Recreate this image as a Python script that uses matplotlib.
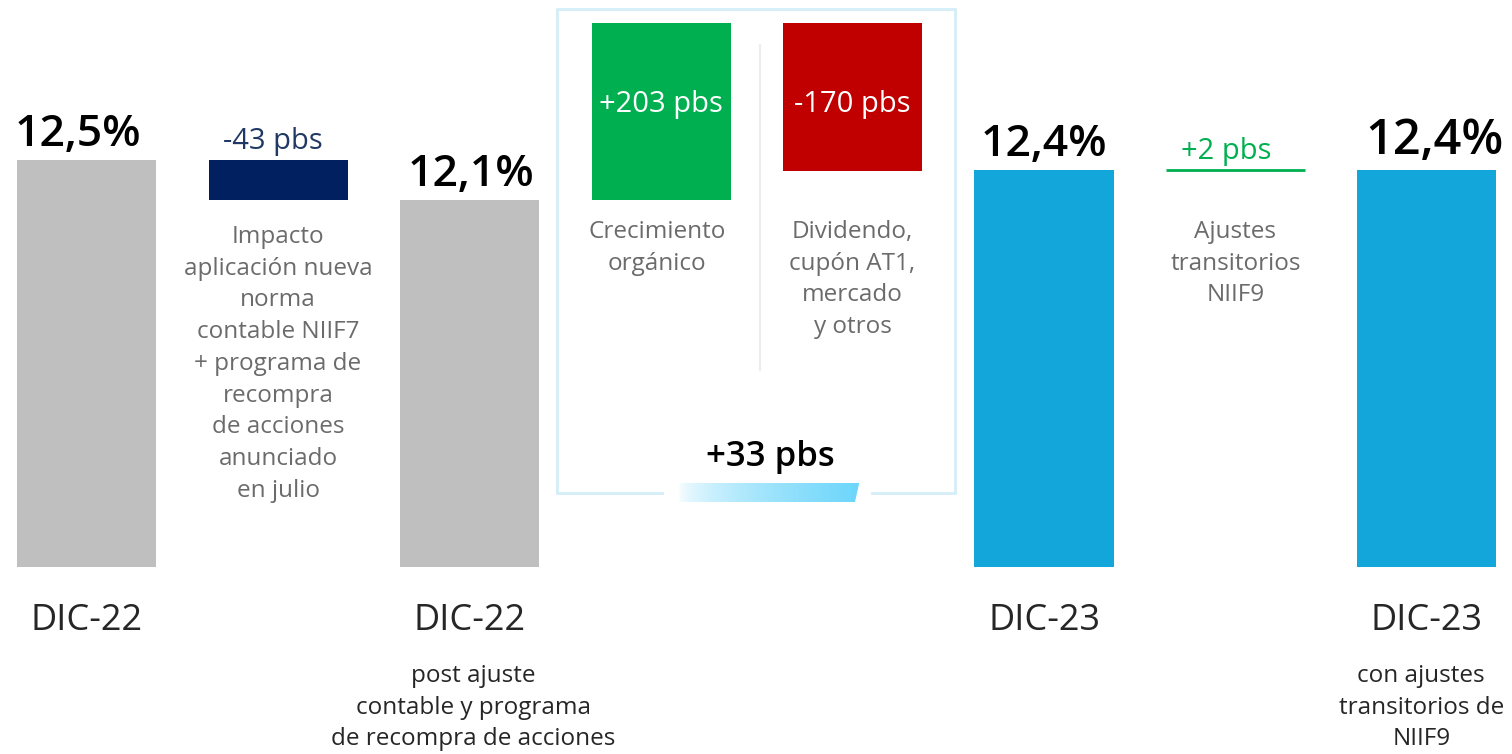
import numpy as np
import matplotlib
matplotlib.use("Agg")
import matplotlib.pyplot as plt
from matplotlib.patches import Polygon

plt.rcParams["font.family"] = ["Open Sans", "DejaVu Sans"]

# ---- data ----
totals_labels = ["DIC-22", "DIC-22", "DIC-23", "DIC-23"]
totals_sub = ["", "post ajuste\ncontable y programa\nde recompra de acciones", "",
              "con ajustes\ntransitorios de\nNIIF9"]
totals = [12.5, 12.1, 12.4, 12.4]
totals_pos = [0, 2, 5, 7]
totals_colors = ["#BFBFBF", "#BFBFBF", "#12A6DA", "#12A6DA"]

impact_pbs = -43                  # NIIF7 + recompra
organic_pbs = 203                 # crecimiento orgánico
dividend_pbs = -170               # dividendo, AT1, mercado y otros
net_pbs = organic_pbs + dividend_pbs
transit_pbs = 2                   # ajustes transitorios NIIF9
box_scale = 0.872                 # display scale used inside the box

fig = plt.figure(figsize=(15.12, 7.54), dpi=100)
ax = fig.add_axes([0, 0, 1, 1])
ax.set_xlim(-0.452, 7.444)
ax.set_ylim(6.56, 14.10)
ax.axis("off")

W = 0.726
base = 8.43
desc_fs = 17.5
desc_ls = 1.43
desc_col = "#6B6B6B"

# total bars
for p, v, c in zip(totals_pos, totals, totals_colors):
    ax.bar(p, v - base, bottom=base, width=W, color=c)

# value labels
lab_dx = [-6, 1, 0, 5]
for i, (p, v) in enumerate(zip(totals_pos, totals)):
    fs = 35 if i == 3 else 32
    ax.annotate(f"{v:.1f}%".replace(".", ","), xy=(p, v), xytext=(lab_dx[i], 3),
                textcoords="offset points", ha="center", va="bottom",
                fontsize=fs, fontweight="semibold", color="black")

# -43 pbs
ax.bar(1, totals[1] - totals[0], bottom=totals[0], width=W, color="#002060")
ax.annotate(f"{impact_pbs} pbs", xy=(1, totals[0]), xytext=(-4, 3), textcoords="offset points",
            ha="center", va="bottom", fontsize=21, color="#203864")
ax.text(1, totals[1] - 0.25,
        "Impacto\naplicación nueva\nnorma\ncontable NIIF7\n+ programa de\nrecompra\nde acciones\nanunciado\nen julio",
        ha="center", va="top", fontsize=desc_fs, color=desc_col, linespacing=desc_ls)

# organic / dividend bars inside the box
g_h = organic_pbs / 100 * box_scale
r_h = dividend_pbs / 100 * box_scale
ax.bar(3, g_h, bottom=totals[1], width=W, color="#00B050")
ax.bar(4, r_h, bottom=totals[1] + g_h, width=W, color="#C00000")
ax.text(3, 13.05, f"+{organic_pbs} pbs", ha="center", va="center", fontsize=21, color="white")
ax.text(4, 13.05, f"{dividend_pbs} pbs", ha="center", va="center", fontsize=21, color="white")
ax.text(2.98, 11.90, "Crecimiento\norgánico", ha="center", va="top", fontsize=desc_fs,
        color=desc_col, linespacing=desc_ls)
ax.text(4, 11.90, "Dividendo,\ncupón AT1,\nmercado\ny otros", ha="center", va="top",
        fontsize=desc_fs, color=desc_col, linespacing=desc_ls)

# divider
ax.plot([3.517, 3.517], [10.40, 13.65], color="#EDEDED", lw=1.5)

# box outline with gap at bottom
bc = "#D4EEF8"
x0, x1, yt, yb = 2.457, 4.535, 14.01, 9.17
ax.plot([3.005, x0, x0, x1, x1, 4.102], [yb, yb, yt, yt, yb, yb], color=bc, lw=2,
        solid_joinstyle="miter")

# gradient tab
gx0, gx1, gy0, gy1 = 3.09, 4.035, 9.08, 9.27
grad = np.linspace(0, 1, 256).reshape(1, -1)
c0 = np.array([1.0, 1.0, 1.0])
c1 = np.array([0x6D, 0xD6, 0xFB]) / 255
img = (c0 + (c1 - c0) * (grad[..., None] ** 0.6))
im = ax.imshow(img, extent=[gx0, gx1, gy0, gy1], aspect="auto", zorder=3)
tab = Polygon([[gx0, gy0], [gx1 - 0.022, gy0], [gx1, gy1], [gx0, gy1]], closed=True,
              transform=ax.transData, facecolor="none", edgecolor="none")
ax.add_patch(tab)
im.set_clip_path(tab)
ax.text(3.57, 9.53, f"+{net_pbs} pbs", ha="center", va="center", fontsize=25,
        fontweight="semibold", color="black")

# +2 pbs
ax.hlines(totals[3], 6 - W / 2, 6 + W / 2, color="#00B050", lw=2)
ax.annotate(f"+{transit_pbs} pbs", xy=(5.95, totals[3]), xytext=(0, 3), textcoords="offset points",
            ha="center", va="bottom", fontsize=21, color="#00B050")
ax.text(6, 11.90, "Ajustes\ntransitorios\nNIIF9", ha="center", va="top", fontsize=desc_fs,
        color=desc_col, linespacing=desc_ls)

# category labels
sub_dx = [0, 0.02, 0, -0.03]
for p, lab, sub, dx in zip(totals_pos, totals_labels, totals_sub, sub_dx):
    ax.text(p, 7.89, lab, ha="center", va="center", fontsize=26, color="#262626")
    if sub:
        ax.text(p + dx, 7.46, sub, ha="center", va="top", fontsize=desc_fs,
                color="#262626", linespacing=desc_ls)

fig.savefig("out.png", dpi=100)
